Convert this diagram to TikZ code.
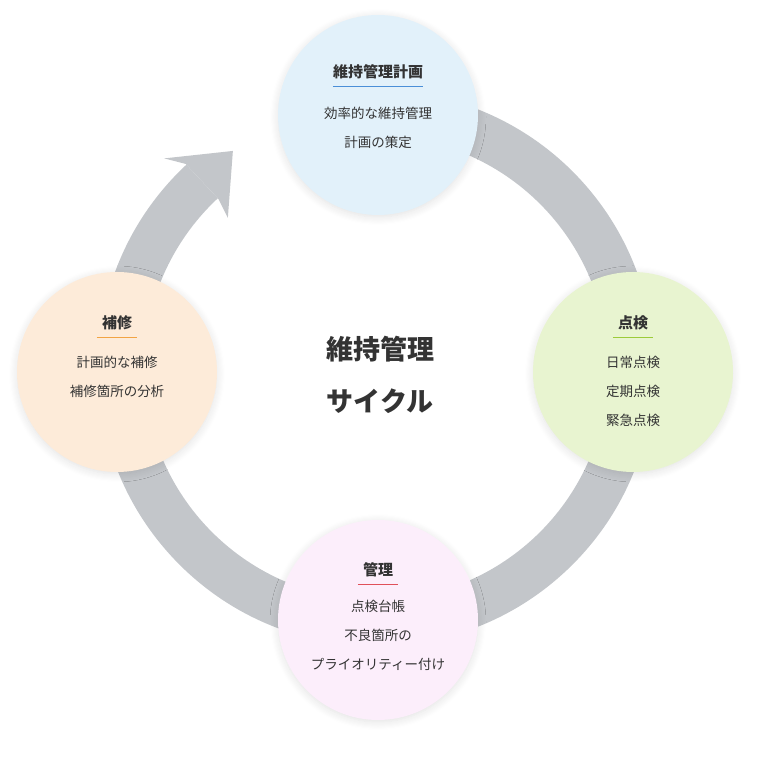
\documentclass[tikz,border=0pt]{standalone}
\usepackage{fontspec}
\setmainfont{Noto Sans CJK JP}
\newfontfamily\jpb{Noto Sans CJK JP Bold}
\usetikzlibrary{shadows.blur}
\definecolor{ring}{HTML}{C3C6CA}
\definecolor{cblue}{HTML}{E2F1FA}
\definecolor{cgreen}{HTML}{E8F4D0}
\definecolor{cpink}{HTML}{FCEEFB}
\definecolor{cpeach}{HTML}{FDEBD9}
\definecolor{ublue}{HTML}{4A8FD8}
\definecolor{ugreen}{HTML}{9CCB3A}
\definecolor{ured}{HTML}{E0505A}
\definecolor{uorange}{HTML}{F2A444}
\definecolor{txt}{HTML}{333333}
\tikzset{
  stage/.style={circle,minimum size=200pt,inner sep=0,draw=none,
    blur shadow={shadow xshift=0pt,shadow yshift=-2pt,shadow blur steps=8,shadow opacity=12,shadow blur radius=8pt}},
  ttl/.style={inner sep=0,font=\fontsize{15}{15}\selectfont\bfseries,text=txt},
  body/.style={align=center,inner sep=0,font=\fontsize{13.5}{29}\selectfont,text=txt},
  uline/.style={line width=1.6pt}
}
\begin{document}
\begin{tikzpicture}[x=1pt,y=1pt]
\useasboundingbox (0,0) rectangle (772,759);
\begin{scope}[shift={(376,391)}]
\fill[ring] (90:232) arc[start angle=90,end angle=-227,radius=232] -- (133:278) arc[start angle=-227,end angle=90,radius=278] -- cycle;
\fill[ring] (133:279) -- (135.3:298) -- (123.4:260) -- (134.6:211) -- (133:231) -- cycle;
\end{scope}
\node[stage,fill=cblue] (plan) at (378,644) {};
\node[stage,fill=cgreen] (check) at (633,387) {};
\node[stage,fill=cpink] (mgmt) at (378,139) {};
\node[stage,fill=cpeach] (repair) at (117,387) {};
% top
\node[ttl] (t1) at (378,687) {維持管理計画};
\draw[uline,ublue] ([yshift=-7pt]t1.south west) -- ([yshift=-7pt]t1.south east);
\node[body] (b1) at (378,631) {効率的な維持管理\\計画の策定};
% right
\node[ttl] (t2) at (633,436) {点検};
\draw[uline,ugreen] ([yshift=-7pt,xshift=-5pt]t2.south west) -- ([yshift=-7pt,xshift=5pt]t2.south east);
\node[body] (b2) at (633,368) {日常点検\\定期点検\\緊急点検};
% bottom
\node[ttl] (t3) at (378,189) {管理};
\draw[uline,ured] ([yshift=-7pt,xshift=-5pt]t3.south west) -- ([yshift=-7pt,xshift=5pt]t3.south east);
\node[body] (b3) at (378,124) {点検台帳\\不良箇所の\\プライオリティー付け};
% left
\node[ttl] (t4) at (117,436) {補修};
\draw[uline,uorange] ([yshift=-7pt,xshift=-5pt]t4.south west) -- ([yshift=-7pt,xshift=5pt]t4.south east);
\node[body] (b4) at (117,382) {計画的な補修\\補修箇所の分析};
% center
\node[align=center,inner sep=0,font=\fontsize{27}{52}\selectfont\bfseries,text=txt] (center) at (380,384) {維持管理\\サイクル};
\end{tikzpicture}
\end{document}
